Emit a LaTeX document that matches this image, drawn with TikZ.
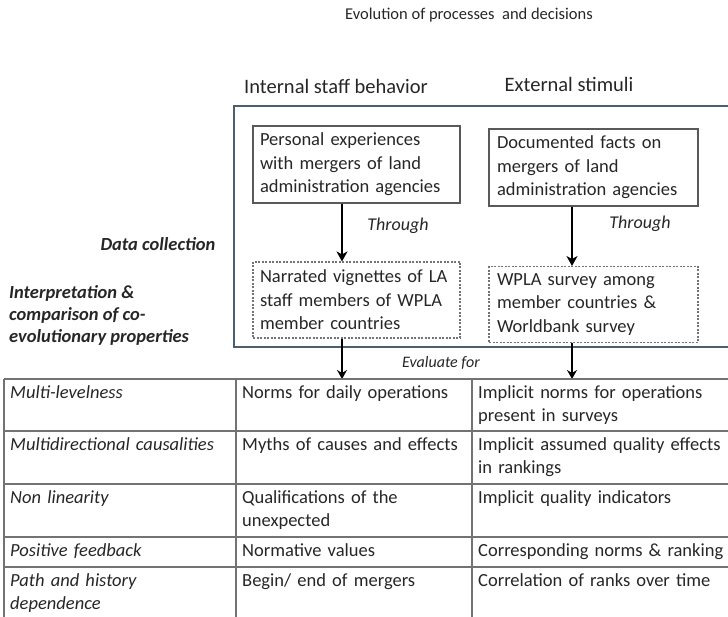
\documentclass[tikz,border=0pt]{standalone}
\usepackage{fontspec}
\setmainfont{Carlito}
\usetikzlibrary{arrows.meta}

\tikzset{
  every node/.style={text=black!85},
  heading/.style={font=\fontsize{20.5}{24}\selectfont},
  sidelabel/.style={font=\fontsize{18.5}{22}\selectfont\bfseries\itshape, align=left},
  solidbox/.style={draw=black!65, line width=1.1pt, minimum width=207pt, minimum height=77pt,
    text width=193pt, align=left, inner sep=7pt, font=\fontsize{18.5}{23.5}\selectfont},
  dotbox/.style={solidbox, draw=black!55, dash pattern=on 2pt off 1.5pt},
  flowarrow/.style={-{Stealth[length=10pt,width=11pt,inset=3pt]}, line width=2pt},
  evalarrow/.style={-{Stealth[length=9pt,width=10pt,inset=3pt]}, line width=1.6pt},
  cell/.style={anchor=north west, text width=222pt, align=left, inner sep=6pt,
    font=\fontsize{18.5}{23.5}\selectfont},
  propcell/.style={cell, font=\fontsize{18.5}{23.5}\selectfont\itshape},
  gridline/.style={draw=black!55, line width=1.2pt}
}

\begin{document}
\begin{tikzpicture}[x=1pt,y=-1pt]
  \useasboundingbox (0,0) rectangle (728,617);

  \node[font=\fontsize{16.5}{19}\selectfont] (title) at (469,15) {Evolution of processes\ \ and decisions};
  \node[heading] (internal) at (336,86) {Internal staff behavior};
  \node[heading] (external) at (569,84) {External stimuli};

  \draw[draw={rgb,255:red,75;green,95;blue,110}, line width=2pt] (728,106) -- (234,106) -- (234,347) -- (728,347);

  \node[solidbox] (experiences) at (356.5,164.5) {Personal experiences\\ with mergers of land\\ administration agencies};
  \node[solidbox, minimum width=209pt] (facts) at (593.5,167.5) {Documented facts on\\ mergers of land\\ administration agencies};
  \node[dotbox, minimum height=76pt] (vignettes) at (356.5,300) {Narrated vignettes of LA\\ staff members of WPLA\\ member countries};
  \node[dotbox, minimum width=209pt, minimum height=75pt] (surveys) at (593.5,304.5) {WPLA survey among\\ member countries \&\\ Worldbank survey};

  \draw[flowarrow] ([xshift=-14.5pt]experiences.south) -- ([xshift=-14.5pt]vignettes.north);
  \draw[flowarrow] ([xshift=-21.5pt]facts.south) -- ([xshift=-21.5pt]surveys.north);
  \node[font=\fontsize{18}{20}\selectfont\itshape] (through1) at (398,226) {Through};
  \node[font=\fontsize{18}{20}\selectfont\itshape] (through2) at (640,224) {Through};

  \node[sidelabel, anchor=east] (datacoll) at (219,244) {Data collection};
  \node[sidelabel, anchor=north west, inner sep=0pt] (interp) at (9,285) {Interpretation \&\\ comparison of co-\\ evolutionary properties};

  \coordinate (tabletop) at (4,379);
  \node[font=\fontsize{16}{18}\selectfont\itshape] (evaluate) at (441,363) {Evaluate for};
  \draw[evalarrow] ([xshift=-14.5pt]vignettes.south) -- ([xshift=-14.5pt]vignettes.south |- tabletop);
  \draw[evalarrow] ([xshift=-21.5pt]surveys.south) -- ([xshift=-21.5pt]surveys.south |- tabletop);

  \foreach \y in {379,431,484,537,567}
    \draw[gridline] (4,\y) -- (728,\y);
  \foreach \x in {4,236,472}
    \draw[gridline] (\x,379) -- (\x,617);

  \node[propcell] (prop1) at (4,379) {Multi-levelness};
  \node[propcell] (prop2) at (4,431) {Multidirectional causalities};
  \node[propcell] (prop3) at (4,484) {Non linearity};
  \node[propcell] (prop4) at (4,537) {Positive feedback};
  \node[propcell] (prop5) at (4,567) {Path and history\\ dependence};

  \node[cell] (staff1) at (236,379) {Norms for daily operations};
  \node[cell] (staff2) at (236,431) {Myths of causes and effects};
  \node[cell] (staff3) at (236,484) {Qualifications of the\\ unexpected};
  \node[cell] (staff4) at (236,537) {Normative values};
  \node[cell] (staff5) at (236,567) {Begin/ end of mergers};

  \node[cell, text width=270pt] (stim1) at (472,379) {Implicit norms for operations\\ present in surveys};
  \node[cell, text width=270pt] (stim2) at (472,431) {Implicit assumed quality effects\\ in rankings};
  \node[cell, text width=270pt] (stim3) at (472,484) {Implicit quality indicators};
  \node[cell, text width=270pt] (stim4) at (472,537) {Corresponding norms \& ranking};
  \node[cell, text width=270pt] (stim5) at (472,567) {Correlation of ranks over time};
\end{tikzpicture}
\end{document}
